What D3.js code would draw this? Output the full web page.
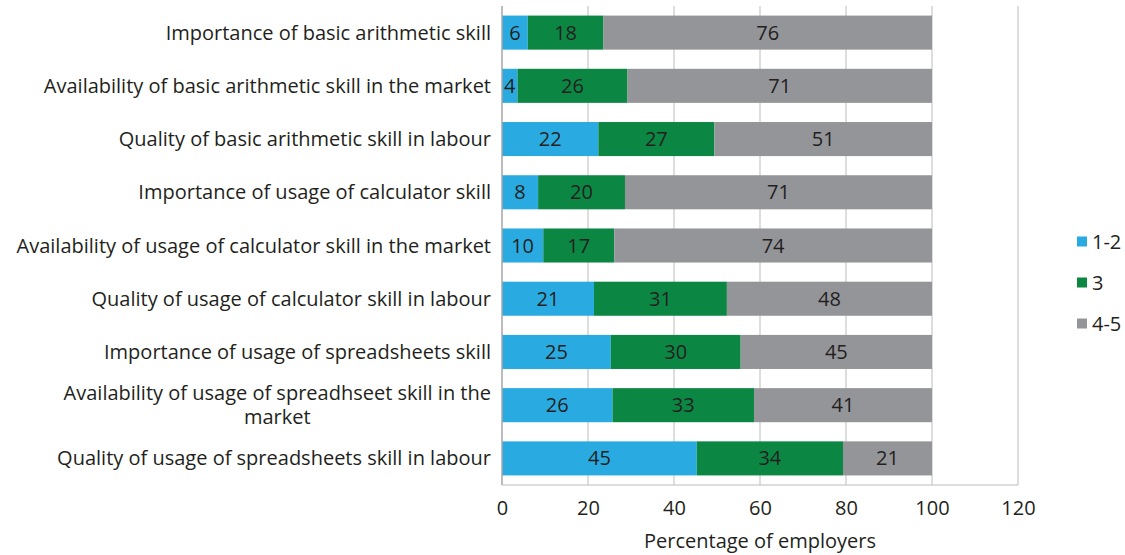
<!DOCTYPE html>
<html><head><meta charset="utf-8">
<script src="https://cdn.jsdelivr.net/npm/d3@7"></script>
<style>
body{margin:0;background:#fff;}
svg{display:block;font-family:"Open Sans",sans-serif;}
</style></head>
<body><svg id="chart" width="1125" height="555"></svg>
<script>
const categories = [
  "Importance of basic arithmetic skill",
  "Availability of basic arithmetic skill in the market",
  "Quality of basic arithmetic skill in labour",
  "Importance of usage of calculator skill",
  "Availability of usage of calculator skill in the market",
  "Quality of usage of calculator skill in labour",
  "Importance of usage of spreadsheets skill",
  "Availability of usage of spreadhseet skill in the|market",
  "Quality of usage of spreadsheets skill in labour"
];
const seriesNames = ["1-2", "3", "4-5"];
const low  = [6, 3.6, 22.4, 8.4, 9.6, 21.4, 25.3, 25.7, 45.3];
const mid  = [17.6, 25.6, 27.0, 20.2, 16.5, 30.9, 30.2, 32.9, 34.0];
const high = [76.4, 70.8, 50.6, 71.4, 73.9, 47.7, 44.5, 41.4, 20.7];
const xTicks = [0, 20, 40, 60, 80, 100, 120];
const colors = ["#29abe2", "#0b8743", "#939598"];
const textColor = "#231f20";

const svg = d3.select("#chart");
const m = {left: 502, right: 1018, top: 6, bottom: 485};
const x = d3.scaleLinear().domain([0, 120]).range([m.left, m.right]);
const y = d3.scaleBand().domain(categories).range([m.top, m.bottom]).paddingInner(0.36).paddingOuter(0.18);

const rows = categories.map((c, i) => ({cat: c, vals: [low[i], mid[i], high[i]]}));
const stack = d3.stack().keys([0, 1, 2]).value((d, k) => d.vals[k]);
const layers = stack(rows);

// gridlines
svg.append("g").selectAll("line").data(xTicks.filter(t => t > 0)).join("line")
  .attr("x1", d => x(d)).attr("x2", d => x(d))
  .attr("y1", m.top).attr("y2", m.bottom)
  .attr("stroke", "#bcbcbc").attr("stroke-width", 1);

// bars
layers.forEach((layer, k) => {
  svg.append("g").selectAll("rect").data(layer).join("rect")
    .attr("x", d => x(d[0]))
    .attr("width", d => x(d[1]) - x(d[0]))
    .attr("y", d => y(d.data.cat))
    .attr("height", y.bandwidth())
    .attr("fill", colors[k]);
  svg.append("g").selectAll("text").data(layer).join("text")
    .attr("x", d => (x(d[0]) + x(d[1])) / 2)
    .attr("y", d => y(d.data.cat) + y.bandwidth() / 2)
    .attr("dy", "0.35em")
    .attr("text-anchor", "middle")
    .attr("font-size", 20)
    .attr("fill", textColor)
    .text(d => Math.round(d[1] - d[0]));
});

// axis lines
svg.append("line").attr("x1", x(0)).attr("x2", x(0)).attr("y1", m.top).attr("y2", m.bottom)
  .attr("stroke", "#a6a6a6").attr("stroke-width", 1.5);
svg.append("line").attr("x1", x(0)).attr("x2", x(120)).attr("y1", m.bottom).attr("y2", m.bottom)
  .attr("stroke", "#bcbcbc").attr("stroke-width", 1);

// x axis
const xAxis = svg.append("g").attr("transform", `translate(0,${m.bottom})`)
  .call(d3.axisBottom(x).tickValues(xTicks).tickSize(0).tickPadding(16));
xAxis.select(".domain").remove();
xAxis.selectAll("text").attr("font-size", 20).attr("fill", textColor).attr("font-family", "Open Sans");

svg.append("text").attr("x", (x(0) + x(120)) / 2).attr("y", 548)
  .attr("text-anchor", "middle").attr("font-size", 20).attr("fill", textColor)
  .text("Percentage of employers");

// category labels
const labelG = svg.append("g");
categories.forEach(c => {
  const lines = c.split("|");
  const t = labelG.append("text").attr("font-size", 20).attr("fill", textColor).attr("text-anchor", "middle");
  const cy = y(c) + y.bandwidth() / 2;
  const lh = 24;
  lines.forEach((ln, j) => {
    t.append("tspan").attr("x", 0).attr("y", cy + (j - (lines.length - 1) / 2) * lh).attr("dy", "0.35em").text(ln);
  });
  let w = 0;
  t.selectAll("tspan").each(function(){ w = Math.max(w, this.getComputedTextLength()); });
  t.selectAll("tspan").attr("x", 491 - w / 2);
});

// legend
const legY = [241.5, 282.5, 323.5];
seriesNames.forEach((s, k) => {
  svg.append("rect").attr("x", 1077).attr("y", legY[k] - 5).attr("width", 10).attr("height", 10).attr("fill", colors[k]);
  svg.append("text").attr("x", 1092).attr("y", legY[k]).attr("dy", "0.35em")
    .attr("font-size", 20).attr("fill", textColor).text(s);
});
</script></body></html>
